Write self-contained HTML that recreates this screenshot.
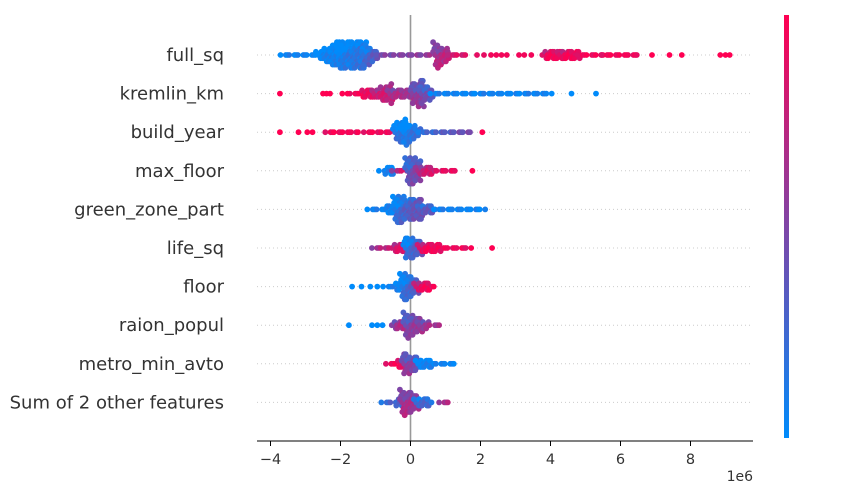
<!DOCTYPE html>
<html><head><meta charset="utf-8">
<style>
html,body{margin:0;padding:0;background:#fff;}
svg{display:block;font-family:"DejaVu Sans","Liberation Sans",sans-serif;}
</style></head>
<body>
<svg id="chart" width="857" height="497" viewBox="0 0 857 497">
<defs>
<linearGradient id="cbar" x1="0" y1="1" x2="0" y2="0">
<stop offset="0" stop-color="#008bfb"/><stop offset="0.5" stop-color="#7f45a6"/><stop offset="1" stop-color="#ff0052"/>
</linearGradient>
</defs>
<g id="grid"></g>
<line x1="410.5" y1="15" x2="410.5" y2="441" stroke="#999" stroke-width="1.6"/>
<g id="dots"></g>
<g id="labels"></g>
<line x1="257" y1="441" x2="753" y2="441" stroke="#000" stroke-width="1"/>
<g id="xticks"></g>
<text x="753" y="481" font-size="14" fill="#333" text-anchor="end">1e6</text>
<rect x="784" y="15" width="5" height="423" fill="url(#cbar)"/>
</svg>
<script>
const features = ["full_sq","kremlin_km","build_year","max_floor","green_zone_part","life_sq","floor","raion_popul","metro_min_avto","Sum of 2 other features"];
const xTicks = [-4,-2,0,2,4,6,8];
const xTickLabels = ["\u22124","\u22122","0","2","4","6","8"];
// segments: [x0, x1, halfHeight0, halfHeight1, color0, color1]  (x in 1e6, color 0=low/blue 1=high/red)
const segFullSq = [[-3.68,-2.6,2,3,0.05,0.05],[-2.6,-2.0,4,14,0.05,0.08],[-2.0,-1.3,14,13,0.1,0.18],[-1.3,-0.95,12,4,0.25,0.35],[-0.95,0.75,3,3,0.45,0.6],[0.75,1.1,14,5,0.7,0.72],[1.1,1.6,3,2,0.8,0.85],[3.8,4.3,3,6,0.95,0.95],[4.3,4.8,6,4,0.95,0.95],[4.8,5.5,3,2,0.95,0.95],[5.5,6.5,1,1,0.95,0.95]];
const ptsFullSq = [[1.9,0.9],[2.1,0.9],[2.3,0.95],[2.45,0.95],[2.6,0.95],[2.75,0.95],[3.1,0.95],[3.25,0.95],[3.45,0.95],[6.9,1],[7.4,1],[7.75,1],[8.85,1],[9.0,1],[9.12,1]];
const segKremlin = [[-1.7,-1.0,2,5,0.95,0.9],[-1.0,-0.55,5,10,0.85,0.75],[-0.55,0.1,4,4,0.7,0.6],[0.1,0.35,12,14,0.6,0.55],[0.35,0.6,10,5,0.5,0.4],[0.6,4.0,3,2,0.05,0.05]];
const ptsKremlin = [[-3.73,1],[-2.5,1],[-2.4,1],[-2.3,1],[-1.95,1],[-1.8,1],[4.6,0],[5.3,0]];
const segBuild = [[-2.4,-1.5,2,2,0.95,0.95],[-1.3,-0.4,2,3,0.95,0.9],[-0.4,-0.15,8,15,0.2,0.15],[-0.15,0.25,12,4,0.1,0.2],[0.25,1.7,3,2,0.15,0.5]];
const ptsBuild = [[-3.73,1],[-3.2,1],[-2.95,1],[-2.8,1],[2.05,1]];
const segMaxFloor = [[-0.87,-0.5,2,5,0.05,0.05],[-0.5,-0.05,3,3,0.6,0.9],[-0.05,0.25,15,12,0.4,0.5],[0.25,1.3,4,2,0.75,0.95]];
const ptsMaxFloor = [[1.77,1]];
const segGreen = [[-1.2,-0.4,2,4,0.05,0.05],[-0.4,0.3,14,10,0.2,0.45],[0.3,0.7,5,3,0.4,0.3],[0.7,2.1,2,2,0.05,0.05]];
const ptsGreen = [];
const segLifeSq = [[-1.07,-0.5,2,3,0.6,0.8],[-0.5,-0.1,3,5,0.9,0.8],[-0.1,0.3,12,7,0.2,0.35],[0.3,1.7,4,2,0.95,0.95]];
const ptsLifeSq = [[2.33,1]];
const segFloor = [[-0.75,-0.2,2,4,0.05,0.05],[-0.2,0.2,14,8,0.2,0.35],[0.2,0.7,4,3,0.9,0.95]];
const ptsFloor = [[-1.67,0],[-1.4,0],[-1.15,0],[-0.95,0]];
const segRaion = [[-0.5,-0.1,3,5,0.6,0.7],[-0.1,0.3,13,7,0.5,0.6],[0.3,0.85,4,2,0.6,0.65]];
const ptsRaion = [[-1.76,0],[-1.1,0],[-0.95,0],[-0.8,0]];
const segMetro = [[-0.67,-0.15,2,4,0.95,0.9],[-0.15,0.25,11,6,0.6,0.4],[0.25,1.27,4,2,0.05,0.05]];
const ptsMetro = [];
const segOther = [[-0.8,-0.2,2,4,0.2,0.3],[-0.2,0.2,13,8,0.7,0.6],[0.2,0.6,5,3,0.3,0.2],[0.85,1.1,2,2,0.65,0.65]];
const ptsOther = [];
const allSegs = [segFullSq,segKremlin,segBuild,segMaxFloor,segGreen,segLifeSq,segFloor,segRaion,segMetro,segOther];
const allPts = [ptsFullSq,ptsKremlin,ptsBuild,ptsMaxFloor,ptsGreen,ptsLifeSq,ptsFloor,ptsRaion,ptsMetro,ptsOther];

const NS="http://www.w3.org/2000/svg";
function xScale(v){return 410.5+v*35;}
function yRow(i){return 55+i*38.6;}
function col(c){
  const a=[0,139,251],m=[127,69,166],b=[255,0,82];
  let r,g,bb;
  if(c<0.5){const t=c/0.5;r=a[0]+(m[0]-a[0])*t;g=a[1]+(m[1]-a[1])*t;bb=a[2]+(m[2]-a[2])*t;}
  else{const t=(c-0.5)/0.5;r=m[0]+(b[0]-m[0])*t;g=m[1]+(b[1]-m[1])*t;bb=m[2]+(b[2]-m[2])*t;}
  return `rgb(${r|0},${g|0},${bb|0})`;
}
const grid=document.getElementById('grid'),dots=document.getElementById('dots'),labels=document.getElementById('labels'),xt=document.getElementById('xticks');
function dot(x,y,c){
  const e=document.createElementNS(NS,'circle');
  e.setAttribute('cx',x.toFixed(1));e.setAttribute('cy',y.toFixed(1));e.setAttribute('r','2.9');e.setAttribute('fill',col(c));
  
  
  dots.appendChild(e);
}
features.forEach((f,i)=>{
  const y=yRow(i);
  const g=document.createElementNS(NS,'line');
  g.setAttribute('x1','257');g.setAttribute('x2','753');g.setAttribute('y1',y);g.setAttribute('y2',y);
  g.setAttribute('stroke','#ccc');g.setAttribute('stroke-width','1');g.setAttribute('stroke-dasharray','1,3');
  
  
  grid.appendChild(g);
  const t=document.createElementNS(NS,'text');
  t.setAttribute('x','224');t.setAttribute('y',y+6);t.setAttribute('text-anchor','end');t.setAttribute('font-size','18');t.setAttribute('fill','#333');
  t.textContent=f;
  
  
  labels.appendChild(t);
  allSegs[i].forEach(s=>{
    const [x0,x1,h0,h1,c0,c1]=s;
    const p0=xScale(x0),p1=xScale(x1);
    const n=Math.max(1,Math.round((p1-p0)/3));
    for(let k=0;k<=n;k++){
      const t=k/n,px=p0+(p1-p0)*t,h=h0+(h1-h0)*t,c=c0+(c1-c0)*t;
      const m=Math.floor(h/3.2);
      for(let j=-m;j<=m;j++){
        const cc=Math.min(1,Math.max(0,c+((j*7+k*3)%5-2)*0.04));
        const jx=((j*5+k*11)%3-1)*1.2;
        dot(px+jx,y+j*3.2,cc);
      }
    }
  });
  allPts[i].forEach(p=>dot(xScale(p[0]),y,p[1]));
});
xTicks.forEach((v,i)=>{
  const x=xScale(v);
  const l=document.createElementNS(NS,'line');
  l.setAttribute('x1',x);l.setAttribute('x2',x);l.setAttribute('y1','441');l.setAttribute('y2','446');l.setAttribute('stroke','#000');
  
  
  xt.appendChild(l);
  const t=document.createElementNS(NS,'text');
  t.setAttribute('x',x);t.setAttribute('y','464');t.setAttribute('text-anchor','middle');t.setAttribute('font-size','14.5');t.setAttribute('fill','#333');
  t.textContent=xTickLabels[i];
  
  
  xt.appendChild(t);
});
</script>
</body></html>
